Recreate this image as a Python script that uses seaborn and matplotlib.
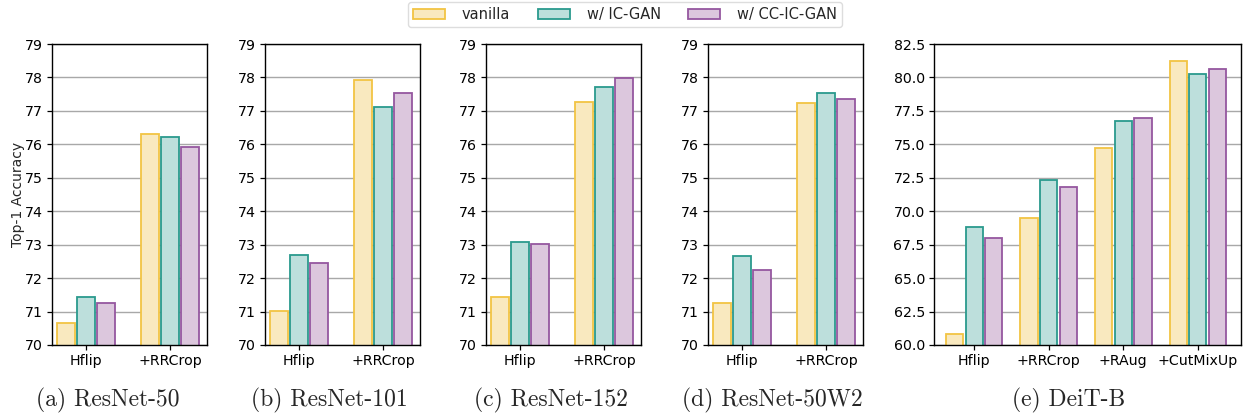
import numpy as np
import pandas as pd
import matplotlib
matplotlib.use("Agg")
import matplotlib.pyplot as plt
import seaborn as sns
from matplotlib.patches import Patch

# ---- data ----
methods = ["vanilla", "w/ IC-GAN", "w/ CC-IC-GAN"]
aug_resnet = ["Hflip", "+RRCrop"]
aug_deit = ["Hflip", "+RRCrop", "+RAug", "+CutMixUp"]

r50_vanilla = [70.65, 76.30]
r50_icgan = [71.45, 76.22]
r50_ccicgan = [71.27, 75.92]

r101_vanilla = [71.02, 77.92]
r101_icgan = [72.70, 77.12]
r101_ccicgan = [72.45, 77.53]

r152_vanilla = [71.43, 77.28]
r152_icgan = [73.07, 77.72]
r152_ccicgan = [73.03, 77.98]

r50w2_vanilla = [71.25, 77.25]
r50w2_icgan = [72.65, 77.52]
r50w2_ccicgan = [72.25, 77.37]

deit_vanilla = [60.80, 69.50, 74.75, 81.20]
deit_icgan = [68.80, 72.35, 76.75, 80.25]
deit_ccicgan = [68.00, 71.80, 77.00, 80.65]

captions = ["(a) ResNet-50", "(b) ResNet-101", "(c) ResNet-152",
            "(d) ResNet-50W2", "(e) DeiT-B"]

fill_colors = ["#f9e9bf", "#bddfdc", "#dcc7dd"]
edge_colors = ["#f2c443", "#2a9a8d", "#95579f"]

sns.set_theme(style="white")
plt.rcParams["font.family"] = ["DejaVu Sans"]

W, H = 1248, 417
fig = plt.figure(figsize=(W / 100, H / 100), dpi=100)


def make_df(augs, v, i, c):
    rows = []
    for vals, m in zip([v, i, c], methods):
        for a, val in zip(augs, vals):
            rows.append({"aug": a, "acc": val, "method": m})
    return pd.DataFrame(rows)


panels = [
    (make_df(aug_resnet, r50_vanilla, r50_icgan, r50_ccicgan), 52, 155),
    (make_df(aug_resnet, r101_vanilla, r101_icgan, r101_ccicgan), 265, 155),
    (make_df(aug_resnet, r152_vanilla, r152_icgan, r152_ccicgan), 486, 155),
    (make_df(aug_resnet, r50w2_vanilla, r50w2_icgan, r50w2_ccicgan), 708, 155),
    (make_df(aug_deit, deit_vanilla, deit_icgan, deit_ccicgan), 934, 307),
]
cap_x = [108, 329, 551, 772, 1069]

top_px, bot_px = 44, 345
for k, (df, left, width) in enumerate(panels):
    ax = fig.add_axes([left / W, (H - bot_px) / H, width / W, (bot_px - top_px) / H])
    deit = k == 4
    sns.barplot(data=df, x="aug", y="acc", hue="method", hue_order=methods,
                palette=fill_colors, saturation=1, ax=ax,
                width=0.79 if deit else 0.71,
                gap=0.12, linewidth=1.3, legend=False, errorbar=None)
    for cont, ec in zip(ax.containers, edge_colors):
        for p in cont.patches:
            p.set_edgecolor(ec)
    if deit:
        ax.set_ylim(60, 82.5)
        ax.set_yticks(np.arange(60, 82.6, 2.5))
        ax.set_yticklabels([f"{t:.1f}" for t in np.arange(60, 82.6, 2.5)])
        ax.set_xlim(-0.54, 3.58)
    else:
        ax.set_ylim(70, 79)
        ax.set_yticks(np.arange(70, 80, 1))
        ax.set_xlim(-0.405, 1.44)
    ax.set_axisbelow(True)
    ax.yaxis.grid(True, color="#a8a8a8", linewidth=1.0)
    ax.xaxis.grid(False)
    for s in ax.spines.values():
        s.set_visible(True)
        s.set_color("black")
        s.set_linewidth(1.0)
    ax.tick_params(axis="both", which="both", labelsize=10.2, length=3.5,
                   width=0.9, color="black", bottom=True, left=True,
                   labelcolor="black", pad=3)
    ax.set_xlabel("")
    ax.set_ylabel("Top-1 Accuracy" if k == 0 else "", fontsize=10, labelpad=0)
    fig.text(cap_x[k] / W, (H - 400) / H, captions[k], ha="center",
             va="center", fontsize=17, family="cmr10")

handles = [Patch(facecolor=f, edgecolor=e, linewidth=1.3)
           for f, e in zip(fill_colors, edge_colors)]
fig.legend(handles, methods, loc="upper center", ncol=3,
           bbox_to_anchor=(625 / W, 1.0 - 2 / H), fontsize=10.5,
           handlelength=2.2, handletextpad=1.15, columnspacing=1.9,
           frameon=True, edgecolor="#d5d5d5", fancybox=True,
           borderpad=0.35, borderaxespad=0)

fig.savefig("out.png", dpi=100)
